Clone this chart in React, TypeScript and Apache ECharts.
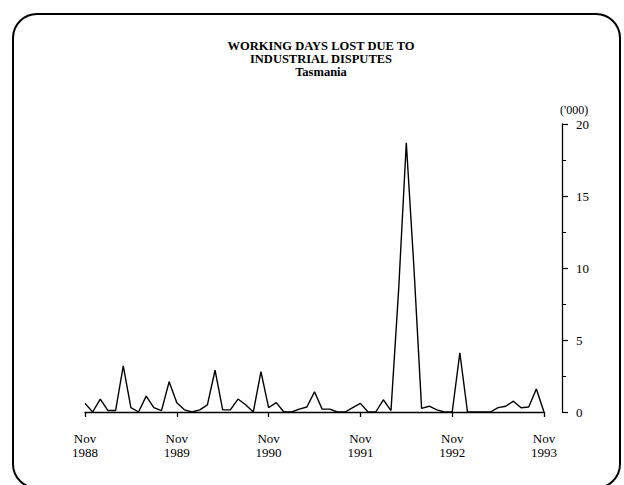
import React, { useEffect, useRef } from "react";
import * as echarts from "echarts";

const monthNames = ["Nov", "Dec", "Jan", "Feb", "Mar", "Apr", "May", "Jun", "Jul", "Aug", "Sep", "Oct"];
const startYear = 1988;
const monthCount = 61;
const yTicks = [0, 5, 10, 15, 20];

// Working days lost ('000), monthly, Nov 1988 - Nov 1993
const workingDaysLost = [
  0.6, 0.0, 0.9, 0.1, 0.1, 3.2, 0.3, 0.0, 1.1, 0.3, 0.1, 2.1,
  0.65, 0.15, 0.0, 0.15, 0.5, 2.9, 0.15, 0.15, 0.9, 0.5, 0.0, 2.8,
  0.3, 0.65, 0.0, 0.0, 0.2, 0.35, 1.4, 0.2, 0.2, 0.0, 0.0, 0.3,
  0.6, 0.0, 0.0, 0.85, 0.1, 8.5, 18.7, 10.0, 0.25, 0.4, 0.15, 0.0,
  0.0, 4.1, 0.0, 0.0, 0.0, 0.0, 0.3, 0.4, 0.75, 0.3, 0.35, 1.6,
  0.0,
];

const categories: string[] = [];
for (let i = 0; i < monthCount; i++) {
  const m = monthNames[i % 12];
  const y = startYear + Math.floor((i + 10) / 12);
  categories.push(m + "\n" + y);
}

const FONT = "Liberation Serif";

export default function App() {
  const ref = useRef<HTMLDivElement>(null);
  useEffect(() => {
    if (!ref.current) return;
    const chart = echarts.init(ref.current, undefined, { renderer: "svg" });
    chart.setOption({
      animation: false,
      backgroundColor: "#ffffff",
      title: {
        text: "WORKING DAYS LOST DUE TO\nINDUSTRIAL DISPUTES\nTasmania",
        left: 316,
        top: 34,
        textAlign: "center",
        textStyle: {
          fontFamily: FONT,
          fontWeight: "bold",
          fontSize: 12.5,
          lineHeight: 13,
          color: "#000",
        },
      },
      graphic: [
        {
          type: "rect",
          shape: { x: 13, y: 14, width: 607, height: 474, r: 24 },
          style: { fill: "none", stroke: "#000", lineWidth: 2 },
          silent: true,
        },
      ],
      grid: { left: 85, right: 80, top: 124, bottom: 73 },
      xAxis: {
        type: "category",
        data: categories,
        boundaryGap: false,
        offset: 12,
        axisLine: { lineStyle: { color: "#000", width: 1.3 } },
        axisTick: {
          interval: 11,
          length: 5,
          lineStyle: { color: "#000", width: 1.3 },
        },
        axisLabel: {
          interval: 11,
          margin: 7,
          fontFamily: FONT,
          fontSize: 13,
          lineHeight: 14,
          color: "#000",
        },
        splitLine: { show: false },
      },
      yAxis: {
        type: "value",
        position: "right",
        min: 0,
        max: 20,
        interval: 5,
        offset: 18,
        name: "('000)",
        nameLocation: "end",
        nameGap: 8,
        nameTextStyle: {
          fontFamily: FONT,
          fontSize: 12,
          color: "#000",
          align: "left",
          padding: [0, 0, 0, -2],
        },
        axisLine: { show: true, lineStyle: { color: "#000", width: 1.3 } },
        axisTick: { show: true, length: 6, lineStyle: { color: "#000", width: 1.2 } },
        minorTick: { show: true, splitNumber: 2, length: 4, lineStyle: { color: "#000" } },
        axisLabel: {
          margin: 14,
          fontFamily: FONT,
          fontSize: 13,
          color: "#000",
          formatter: (v: number) => (yTicks.includes(v) ? String(v) : ""),
        },
        splitLine: { show: false },
      },
      series: [
        {
          type: "line",
          data: workingDaysLost,
          showSymbol: false,
          symbol: "none",
          lineStyle: { color: "#000", width: 1.4 },
        },
      ],
    });
    return () => chart.dispose();
  }, []);
  return (
    <div
      ref={ref}
      style={{ position: "fixed", left: 0, top: 0, width: 624, height: 485 }}
    />
  );
}
